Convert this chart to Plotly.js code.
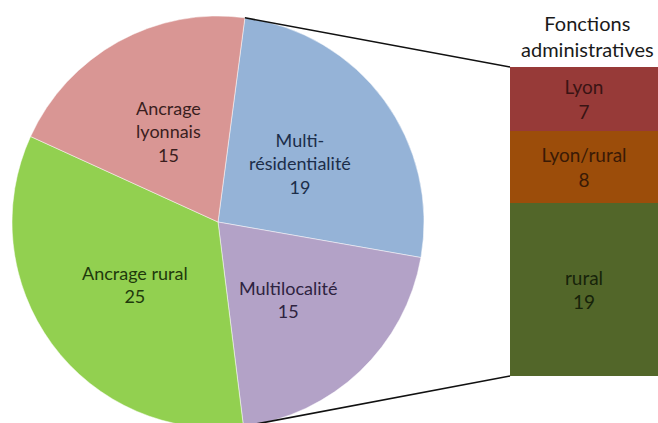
<!DOCTYPE html>
<html>
<head>
<meta charset="utf-8">
<script src="https://cdn.plot.ly/plotly-3.0.1.min.js"></script>
<style>
html,body{margin:0;padding:0;overflow:hidden;background:#fff;}
#chart{width:658px;height:440px;}
</style>
</head>
<body>
<div id="chart"></div>
<script>
// ---- data ----
var pieLabels = ["Multi-<br>résidentialité", "Multilocalité", "Ancrage rural", "Ancrage<br>lyonnais"];
var pieValues = [19, 15, 25, 15];
var pieColors = ["#95B3D7", "#B3A2C7", "#92D050", "#D99694"];
var pieTextColors = ["#1C2E4A", "#2E2340", "#1F3A0C", "#3A1E1E"];

var barTitle = "Fonctions<br>administratives";
var barLabels = ["rural", "Lyon/rural", "Lyon"];
var barValues = [19, 8, 7];
var barColors = ["#526629", "#9C4D0A", "#973A38"];
var barTextColors = ["#17230A", "#3A1A06", "#3A1414"];

// ---- layout constants ----
var W = 658, H = 440;
var pieDomX = [12 / W, 424 / W];
var pieDomY = [(H - 428) / H, (H - 16) / H];
var barDomX = [510 / W, 1];
var barDomY = [(H - 376) / H, (H - 67) / H];
var rot = 7.5;
var FONT = "Lato, 'Open Sans', sans-serif";
var FS = 18;
// label centre positions for pie slices (pixels from top-left), in slice order
var pieLabelPos = [[300, 164], [288, 299], [135, 284], [168, 131]];
var titlePos = [587, 36];

var total = pieValues.reduce(function (a, b) { return a + b; }, 0);
var barTotal = barValues.reduce(function (a, b) { return a + b; }, 0);

// pie geometry in pixels (for connector lines)
var pxW = (pieDomX[1] - pieDomX[0]) * W, pxH = (pieDomY[1] - pieDomY[0]) * H;
var R = Math.min(pxW, pxH) / 2;
var cx = (pieDomX[0] + pieDomX[1]) / 2 * W;
var cyFromTop = H - (pieDomY[0] + pieDomY[1]) / 2 * H;
function edgePt(deg) {
  var a = deg * Math.PI / 180;
  return [cx + R * Math.sin(a), cyFromTop - R * Math.cos(a)];
}
var a0 = rot;
var a1 = rot + 360 * (pieValues[0] + pieValues[1]) / total;
var p0 = edgePt(a0), p1 = edgePt(a1);
function toPaper(p) { return [p[0] / W, (H - p[1]) / H]; }
var q0 = toPaper(p0), q1 = toPaper(p1);

var traces = [{
  type: "pie",
  values: pieValues,
  labels: pieLabels,
  textinfo: "none",
  sort: false,
  direction: "clockwise",
  rotation: rot,
  marker: { colors: pieColors, line: { color: "rgba(255,255,255,0.6)", width: 0.8 } },
  domain: { x: pieDomX, y: pieDomY },
  hoverinfo: "none",
  showlegend: false
}];

barLabels.forEach(function (lab, i) {
  traces.push({
    type: "bar",
    x: [0],
    y: [barValues[i]],
    width: [1],
    name: lab,
    text: [lab + "<br>" + barValues[i]],
    textposition: "inside",
    insidetextanchor: "middle",
    textangle: 0,
    textfont: { family: FONT, size: 19, color: barTextColors[i] },
    marker: { color: barColors[i], line: { width: 0 } },
    xaxis: "x", yaxis: "y",
    hoverinfo: "none",
    showlegend: false
  });
});

var annotations = [{
  text: barTitle, xref: "paper", yref: "paper",
  x: titlePos[0] / W, y: (H - titlePos[1]) / H, xanchor: "center", yanchor: "middle",
  showarrow: false, align: "center",
  font: { family: FONT, size: 20, color: "#1a1a1a" }
}];
pieLabels.forEach(function (lab, i) {
  annotations.push({
    text: lab + "<br>" + pieValues[i], xref: "paper", yref: "paper",
    x: pieLabelPos[i][0] / W, y: (H - pieLabelPos[i][1]) / H,
    xanchor: "center", yanchor: "middle", showarrow: false, align: "center",
    font: { family: FONT, size: FS, color: pieTextColors[i] }
  });
});

var layout = {
  width: W, height: H,
  margin: { l: 0, r: 0, t: 0, b: 0 },
  paper_bgcolor: "#fff",
  plot_bgcolor: "rgba(0,0,0,0)",
  barmode: "stack",
  xaxis: { domain: barDomX, range: [-0.5, 0.5], visible: false, fixedrange: true },
  yaxis: { domain: barDomY, range: [0, barTotal], visible: false, fixedrange: true },
  font: { family: FONT },
  shapes: [
    { type: "line", xref: "paper", yref: "paper", x0: q0[0], y0: q0[1], x1: barDomX[0], y1: barDomY[1], line: { color: "#111", width: 1.6 } },
    { type: "line", xref: "paper", yref: "paper", x0: q1[0], y0: q1[1], x1: barDomX[0], y1: barDomY[0], line: { color: "#111", width: 1.6 } }
  ],
  annotations: annotations
};

Plotly.newPlot("chart", traces, layout, { displayModeBar: false, staticPlot: true });
</script>
</body>
</html>
